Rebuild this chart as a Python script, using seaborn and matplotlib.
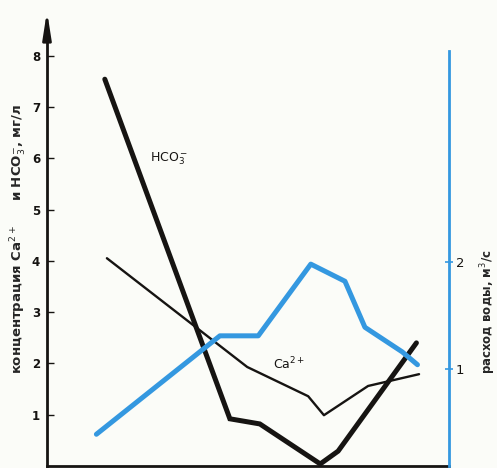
import matplotlib
matplotlib.use("Agg")
import matplotlib.pyplot as plt
import seaborn as sns
import pandas as pd

# --- data ---
hco3_x = [1.15, 3.53, 4.10, 5.25, 5.59, 7.08]
hco3_y = [7.54, 0.92, 0.82, 0.04, 0.29, 2.40]

ca_x = [1.19, 3.86, 5.02, 5.32, 6.16, 7.13]
ca_y = [4.05, 1.93, 1.36, 0.99, 1.56, 1.79]

flow_x = [0.99, 3.34, 4.07, 5.07, 5.72, 6.10, 6.81, 7.10]
flow_y = [0.39, 1.31, 1.31, 1.98, 1.82, 1.39, 1.16, 1.04]

left_ticks = [1, 2, 3, 4, 5, 6, 7, 8]
right_ticks = [1, 2]
x_ticks = [1, 2, 3, 4, 5, 6, 7]

left_label = "концентрация Ca$^{2+}$     и HCO$_3^{-}$, мг/л"
right_label = "расход воды, м$^3$/с"

BLUE = "#3498e0"
BG = "#fbfcf8"
INK = "#161412"

sns.set_style("white")
plt.rcParams['font.family'] = ['DejaVu Sans']

fig = plt.figure(figsize=(4.97, 4.68), dpi=100, facecolor=BG)
ax = fig.add_axes([47/497, 2/468, (449-47)/497, (467-10)/468])
ax.set_facecolor(BG)

df_h = pd.DataFrame({"x": hco3_x, "y": hco3_y})
df_c = pd.DataFrame({"x": ca_x, "y": ca_y})
df_f = pd.DataFrame({"x": flow_x, "y": flow_y})

sns.lineplot(data=df_h, x="x", y="y", ax=ax, color=INK, lw=3.6,
             sort=False, estimator=None, solid_capstyle="round", solid_joinstyle="miter")
sns.lineplot(data=df_c, x="x", y="y", ax=ax, color=INK, lw=1.7,
             sort=False, estimator=None)

ax.set_xlim(0.05, 7.7)
ax.set_ylim(0, (467-10)/51.3)
ax.set_xticks(x_ticks)
ax.set_xticklabels([])
ax.set_yticks(left_ticks)
ax.set_yticklabels([str(t) for t in left_ticks], fontweight="bold", fontsize=8.5)
ax.tick_params(axis="y", direction="in", length=5, width=1, pad=5, colors=INK)
ax.tick_params(axis="x", direction="in", length=5, width=1, colors=INK)
ax.set_xlabel("")
for s in ["top", "right"]:
    ax.spines[s].set_visible(False)
ax.spines["left"].set_color(INK)
ax.spines["left"].set_linewidth(2)
ax.spines["left"].set_bounds(0, (467-35)/51.3)
ax.spines["bottom"].set_color(INK)
ax.spines["bottom"].set_linewidth(2)

# arrow on left axis
ax.annotate("", xy=(0, (467-12)/457), xytext=(0, (467-40)/457),
            xycoords="axes fraction", textcoords="axes fraction",
            arrowprops=dict(arrowstyle="-|>,head_length=1.6,head_width=0.25",
                            color=INK, lw=2, shrinkA=0, shrinkB=0))

ax.text(2.01, 5.98, "HCO$_3^-$", fontsize=9, color=INK, va="center")
ax.text(4.35, 1.99, "Ca$^{2+}$", fontsize=9, color=INK, va="center")

ax.set_ylabel(left_label, fontweight="bold", fontsize=9.5)
ax.yaxis.set_label_coords(-18/402, (467-240)/457)

# right axis
ax2 = ax.twinx()
sns.lineplot(data=df_f, x="x", y="y", ax=ax2, color=BLUE, lw=3.6,
             sort=False, estimator=None, solid_capstyle="round")
ax2.set_ylim(10/107, (477-10)/107)
ax2.set_yticks(right_ticks)
ax2.set_yticklabels([str(t) for t in right_ticks], fontsize=9.5, color=INK)
ax2.tick_params(axis="y", direction="inout", length=6, width=1.2, colors=BLUE,
                labelcolor=INK, pad=2)
ax2.set_xlabel("")
for s in ["top", "left", "bottom"]:
    ax2.spines[s].set_visible(False)
ax2.spines["right"].set_color(BLUE)
ax2.spines["right"].set_linewidth(2)
ax2.spines["right"].set_bounds(10/107, (477-52)/107)
ax2.set_ylabel(right_label, fontweight="bold", fontsize=8.5, rotation=90)
ax2.yaxis.set_label_coords(1 + (478-449)/402, (467-313)/457)

fig.savefig("out.png", dpi=100, facecolor=BG)
